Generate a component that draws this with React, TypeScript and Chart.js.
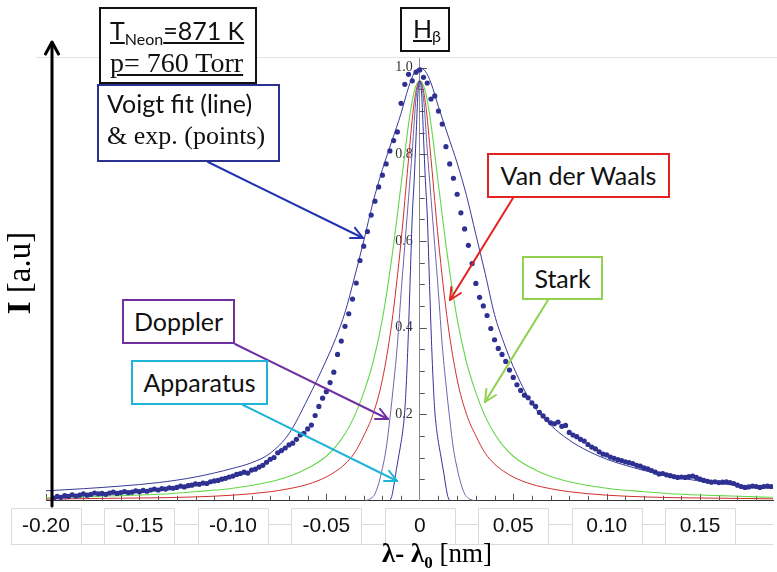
import React, { useEffect, useRef } from "react";
import { Chart, registerables } from "chart.js";

Chart.register(...registerables);

// ---- axes ----
const xRange = [-0.2, 0.189];
const yRange = [0, 1.025];
const xTickValues = [-0.2, -0.15, -0.1, -0.05, 0, 0.05, 0.1, 0.15];
const xTickLabels = ["-0.20", "-0.15", "-0.10", "-0.05", "0", "0.05", "0.10", "0.15"];
const yTickValues = [0.2, 0.4, 0.6, 0.8, 1.0];
const yTickLabels = ["0.2", "0.4", "0.6", "0.8", "1.0"];

// ---- Voigt fit (line) ----
const voigtX = [-0.2, -0.18, -0.16, -0.14, -0.12, -0.1, -0.09, -0.08, -0.07, -0.06, -0.05, -0.045, -0.04, -0.035, -0.03, -0.025, -0.02, -0.015, -0.01, -0.006, -0.003, 0,
  0.003, 0.006, 0.01, 0.015, 0.02, 0.025, 0.03, 0.035, 0.04, 0.045, 0.05, 0.06, 0.07, 0.08, 0.09, 0.1, 0.11, 0.12, 0.13, 0.14, 0.16, 0.18, 0.19];
const voigtY = [0.023, 0.028, 0.034, 0.042, 0.055, 0.075, 0.088, 0.11, 0.155, 0.235, 0.325, 0.375, 0.435, 0.515, 0.6, 0.69, 0.765, 0.83, 0.895, 0.955, 0.988, 1.0,
  0.992, 0.965, 0.91, 0.845, 0.78, 0.705, 0.615, 0.525, 0.43, 0.365, 0.31, 0.225, 0.175, 0.14, 0.115, 0.096, 0.082, 0.07, 0.06, 0.052, 0.04, 0.032, 0.028];

// ---- Stark ----
const starkX = [-0.2, -0.18, -0.16, -0.14, -0.12, -0.1, -0.08, -0.07, -0.06, -0.05, -0.045, -0.04, -0.035, -0.03, -0.025, -0.02, -0.015, -0.01, -0.006, -0.003, 0,
  0.003, 0.006, 0.01, 0.015, 0.02, 0.025, 0.03, 0.035, 0.04, 0.045, 0.05, 0.06, 0.07, 0.08, 0.1, 0.12, 0.14, 0.16, 0.18, 0.19];
const starkY = [0.007, 0.009, 0.012, 0.015, 0.021, 0.029, 0.044, 0.056, 0.075, 0.103, 0.125, 0.155, 0.195, 0.25, 0.32, 0.42, 0.56, 0.73, 0.87, 0.945, 0.97,
  0.945, 0.87, 0.73, 0.56, 0.42, 0.32, 0.25, 0.195, 0.155, 0.125, 0.103, 0.075, 0.056, 0.044, 0.029, 0.021, 0.015, 0.012, 0.009, 0.008];

// ---- Van der Waals ----
const vdwX = [-0.2, -0.18, -0.16, -0.14, -0.12, -0.1, -0.08, -0.07, -0.06, -0.05, -0.045, -0.04, -0.035, -0.03, -0.025, -0.02, -0.015, -0.01, -0.006, -0.003, 0,
  0.003, 0.006, 0.01, 0.015, 0.02, 0.025, 0.03, 0.035, 0.04, 0.045, 0.05, 0.06, 0.07, 0.08, 0.1, 0.12, 0.14, 0.16, 0.18, 0.19];
const vdwY = [0.004, 0.005, 0.006, 0.007, 0.009, 0.013, 0.021, 0.028, 0.038, 0.055, 0.068, 0.085, 0.11, 0.15, 0.2, 0.28, 0.41, 0.6, 0.79, 0.92, 0.97,
  0.92, 0.79, 0.6, 0.41, 0.28, 0.2, 0.15, 0.11, 0.085, 0.068, 0.055, 0.038, 0.028, 0.021, 0.013, 0.009, 0.007, 0.006, 0.005, 0.0045];

// ---- Doppler ----
const dopplerX = [-0.029, -0.026, -0.024, -0.022, -0.02, -0.018, -0.016, -0.014, -0.012, -0.01, -0.008, -0.006, -0.004, -0.002, 0,
  0.002, 0.004, 0.006, 0.008, 0.01, 0.012, 0.014, 0.016, 0.018, 0.02, 0.022, 0.024, 0.026, 0.029];
const dopplerY = [0, 0.006, 0.016, 0.04, 0.075, 0.12, 0.19, 0.27, 0.36, 0.48, 0.59, 0.7, 0.81, 0.93, 0.97,
  0.93, 0.81, 0.7, 0.59, 0.48, 0.36, 0.27, 0.19, 0.12, 0.075, 0.04, 0.016, 0.006, 0];

// ---- Apparatus ----
const apparatusX = [-0.016, -0.015, -0.014, -0.013, -0.012, -0.011, -0.01, -0.009, -0.008, -0.007, -0.006, -0.005, -0.004, -0.003, -0.002, -0.001, 0,
  0.001, 0.002, 0.003, 0.004, 0.005, 0.006, 0.007, 0.008, 0.009, 0.01, 0.011, 0.012, 0.013, 0.014, 0.015, 0.016];
const apparatusY = [0, 0.01, 0.032, 0.06, 0.085, 0.11, 0.135, 0.165, 0.21, 0.29, 0.4, 0.53, 0.66, 0.74, 0.84, 0.94, 0.97,
  0.94, 0.84, 0.74, 0.66, 0.53, 0.4, 0.29, 0.21, 0.165, 0.135, 0.11, 0.085, 0.06, 0.032, 0.01, 0];

// ---- experimental points ----
const expX = [
  -0.196, -0.194, -0.192, -0.19, -0.188, -0.186, -0.184, -0.182, -0.18, -0.178, -0.176, -0.174, -0.172, -0.17, -0.168, -0.166, -0.164, -0.162, -0.16, -0.158,
  -0.156, -0.154, -0.152, -0.15, -0.148, -0.146, -0.144, -0.142, -0.14, -0.138, -0.136, -0.134, -0.132, -0.13, -0.128, -0.126, -0.124, -0.122, -0.12, -0.118,
  -0.116, -0.114, -0.112, -0.11, -0.108, -0.106, -0.104, -0.102, -0.1, -0.098, -0.096, -0.094, -0.092, -0.09, -0.088, -0.086, -0.084, -0.082, -0.08, -0.078,
  -0.076, -0.074, -0.072, -0.07, -0.068, -0.066, -0.064, -0.062, -0.06, -0.058, -0.056, -0.054, -0.052, -0.05, -0.048, -0.046, -0.044, -0.042, -0.04, -0.038,
  -0.036, -0.034, -0.032, -0.03, -0.028, -0.026, -0.024, -0.022, -0.02, -0.018, -0.016, -0.014, -0.012, -0.01, -0.008, -0.006, -0.004, -0.002,
  0, 0.002, 0.004, 0.006, 0.008, 0.01, 0.012, 0.014, 0.016, 0.018, 0.02, 0.022, 0.024, 0.026, 0.028, 0.03, 0.032, 0.034, 0.036, 0.038,
  0.04, 0.042, 0.044, 0.046, 0.048, 0.05, 0.052, 0.054, 0.056, 0.058, 0.06, 0.062, 0.064, 0.066, 0.068, 0.07, 0.072, 0.074, 0.076, 0.078,
  0.08, 0.082, 0.084, 0.086, 0.088, 0.09, 0.092, 0.094, 0.096, 0.098, 0.1, 0.102, 0.104, 0.106, 0.108, 0.11, 0.112, 0.114, 0.116, 0.118,
  0.12, 0.122, 0.124, 0.126, 0.128, 0.13, 0.132, 0.134, 0.136, 0.138, 0.14, 0.142, 0.144, 0.146, 0.148, 0.15, 0.152, 0.154, 0.156, 0.158,
  0.16, 0.162, 0.164, 0.166, 0.168, 0.17, 0.172, 0.174, 0.176, 0.178, 0.18, 0.182, 0.184, 0.186, 0.188];
const expY = [
  0.006, 0.01, 0.008, 0.012, 0.01, 0.014, 0.011, 0.013, 0.016, 0.013, 0.015, 0.018, 0.016, 0.017, 0.015, 0.018, 0.02, 0.017, 0.019, 0.021,
  0.019, 0.02, 0.023, 0.021, 0.024, 0.022, 0.025, 0.027, 0.025, 0.028, 0.027, 0.03, 0.029, 0.031, 0.034, 0.032, 0.035, 0.036, 0.039, 0.038,
  0.041, 0.04, 0.044, 0.046, 0.047, 0.05, 0.052, 0.055, 0.057, 0.061, 0.063, 0.066, 0.064, 0.071, 0.073, 0.078, 0.082, 0.089, 0.096, 0.1,
  0.111, 0.116, 0.122, 0.129, 0.133, 0.142, 0.152, 0.156, 0.166, 0.175, 0.197, 0.218, 0.237, 0.252, 0.273, 0.297, 0.338, 0.369, 0.403, 0.432,
  0.466, 0.503, 0.555, 0.588, 0.622, 0.66, 0.692, 0.725, 0.752, 0.778, 0.808, 0.832, 0.852, 0.918, 0.962, 0.985, 0.97, 0.99,
  0.995, 0.978, 0.965, 0.928, 0.935, 0.9, 0.87, 0.818, 0.778, 0.745, 0.708, 0.665, 0.628, 0.59, 0.548, 0.502, 0.47, 0.45, 0.428, 0.398,
  0.372, 0.352, 0.338, 0.322, 0.302, 0.285, 0.268, 0.255, 0.244, 0.238, 0.226, 0.218, 0.204, 0.196, 0.188, 0.18, 0.178, 0.182, 0.172, 0.174,
  0.158, 0.152, 0.148, 0.142, 0.138, 0.13, 0.124, 0.12, 0.113, 0.108, 0.106, 0.101, 0.098, 0.095, 0.093, 0.09, 0.088, 0.086, 0.082, 0.08,
  0.076, 0.074, 0.07, 0.066, 0.062, 0.063, 0.06, 0.058, 0.056, 0.054, 0.055, 0.054, 0.056, 0.057, 0.054, 0.05, 0.047, 0.045, 0.043, 0.044,
  0.042, 0.043, 0.044, 0.042, 0.04, 0.036, 0.033, 0.031, 0.032, 0.034, 0.033, 0.031, 0.033, 0.034, 0.033];

const pairs = (xs: number[], ys: number[]) => xs.map((x, i) => ({ x, y: ys[i] }));

const tickText = (vals: number[], labels: string[], v: number) => {
  const i = vals.findIndex((t) => Math.abs(t - v) < 1e-9);
  return i >= 0 ? labels[i] : "";
};

const decorPlugin = {
  id: "decor",
  beforeDraw(chart: any) {
    const { ctx } = chart;
    const xs = chart.scales.x;
    const ys = chart.scales.y;
    const y0 = ys.getPixelForValue(0);
    const right = chart.chartArea.right;
    // staggered label boxes under the x axis
    ctx.save();
    ctx.strokeStyle = "#dadada";
    ctx.lineWidth = 1;
    const half = 35;
    const top = Math.round(y0 + 7) + 0.5;
    const low = Math.round(y0 + 23) + 0.5;
    const bottom = Math.round(y0 + 43) + 0.5;
    const centers = xTickValues.map((v) => xs.getPixelForValue(v));
    ctx.beginPath();
    centers.forEach((c, i) => {
      ctx.rect(Math.round(c - half) + 0.5, top, 2 * half, bottom - top);
      const next = i < centers.length - 1 ? centers[i + 1] - half : right;
      ctx.moveTo(c + half, low);
      ctx.lineTo(next, low);
    });
    ctx.moveTo(centers[0] - half, bottom);
    ctx.lineTo(right, bottom);
    ctx.stroke();
    ctx.restore();
  },
  beforeDatasetsDraw(chart: any) {
    const { ctx } = chart;
    const xs = chart.scales.x;
    const ys = chart.scales.y;
    const y0 = ys.getPixelForValue(0);
    const x0 = xs.getPixelForValue(0);
    ctx.save();
    ctx.strokeStyle = "#555";
    ctx.lineWidth = 1;
    ctx.beginPath();
    for (let k = -20; k <= 18; k++) {
      if (k === 0) continue;
      const px = Math.round(xs.getPixelForValue(k / 100)) + 0.5;
      const len = k % 5 === 0 ? 7 : 5;
      ctx.moveTo(px, y0);
      ctx.lineTo(px, y0 - len);
    }
    for (let k = 1; k <= 20; k++) {
      const py = Math.round(ys.getPixelForValue(k * 0.05)) + 0.5;
      const len = k % 4 === 0 ? 7 : 5;
      ctx.moveTo(x0, py);
      ctx.lineTo(x0 + len, py);
    }
    ctx.stroke();
    ctx.restore();
  },
};

function Arrow({ x1, y1, x2, y2, color, w = 2, head = 13 }: any) {
  const a = Math.atan2(y2 - y1, x2 - x1);
  const s = 0.45;
  const p1 = `${x2 - head * Math.cos(a - s)},${y2 - head * Math.sin(a - s)}`;
  const p2 = `${x2 - head * Math.cos(a + s)},${y2 - head * Math.sin(a + s)}`;
  return (
    <g stroke={color} strokeWidth={w} fill="none" strokeLinecap="round" strokeLinejoin="round">
      <line x1={x1} y1={y1} x2={x2} y2={y2} />
      <polyline points={`${p1} ${x2},${y2} ${p2}`} />
    </g>
  );
}

const abs: any = { position: "absolute", boxSizing: "border-box", whiteSpace: "nowrap" };
const LATO = "Lato, 'Open Sans', sans-serif";
const SERIF = "'Liberation Serif', 'DejaVu Serif', serif";

function TagBox({ left, top, w, h, color, children }: any) {
  return (
    <div
      style={{
        ...abs, left, top, width: w, height: h, border: `2px solid ${color}`, background: "#fff",
        display: "flex", alignItems: "center", justifyContent: "center",
        fontFamily: LATO, fontSize: 25, color: "#111", lineHeight: "25px",
      }}
    >
      {children}
    </div>
  );
}

export default function App() {
  const ref = useRef<HTMLCanvasElement>(null);
  useEffect(() => {
    if (!ref.current) return;
    const line = (data: any, color: string, width: number) => ({
      data, showLine: true, borderColor: color, borderWidth: width, pointRadius: 0,
      cubicInterpolationMode: "monotone", fill: false,
    });
    const chart = new Chart(ref.current, {
      type: "scatter",
      data: {
        datasets: [
          { data: pairs(expX, expY), showLine: false, pointRadius: 2.6, pointBorderWidth: 0, pointBackgroundColor: "#2e3192", backgroundColor: "#2e3192" } as any,
          line(pairs(voigtX, voigtY), "#3a3a98", 1),
          line(pairs(apparatusX, apparatusY), "#33339e", 1),
          line(pairs(dopplerX, dopplerY), "#6f64aa", 1),
          line(pairs(vdwX, vdwY), "#cf2f2f", 1),
          line(pairs(starkX, starkY), "#63d64a", 1.1),
        ],
      },
      options: {
        responsive: false,
        animation: false,
        devicePixelRatio: 1,
        events: [],
        layout: { padding: { left: 46, right: 0, top: 57, bottom: 20 } },
        plugins: { legend: { display: false }, tooltip: { enabled: false } },
        scales: {
          x: {
            type: "linear",
            min: xRange[0],
            max: xRange[1],
            position: "bottom",
            afterBuildTicks: (s: any) => { s.ticks = xTickValues.map((v) => ({ value: v })); },
            ticks: {
              autoSkip: false, maxRotation: 0, minRotation: 0, padding: 13, color: "#111",
              font: { family: "'Liberation Sans', Arial, sans-serif", size: 21 },
              callback: (v: any) => tickText(xTickValues, xTickLabels, Number(v)),
            },
            grid: { display: true, drawOnChartArea: false, drawTicks: false },
            border: { display: true, color: "#333", width: 1 },
          },
          y: {
            type: "linear",
            min: yRange[0],
            max: yRange[1],
            position: { x: 0 } as any,
            afterBuildTicks: (s: any) => { s.ticks = yTickValues.map((v) => ({ value: v })); },
            ticks: {
              autoSkip: false, color: "#333", padding: 0,
              font: { family: SERIF, size: 14 },
              callback: (v: any) => tickText(yTickValues, yTickLabels, Number(v)) + "  ",
            },
            grid: { display: true, drawOnChartArea: false, drawTicks: false },
            border: { display: true, color: "#8a8a8a", width: 1 },
          },
        },
      } as any,
      plugins: [decorPlugin],
    });
    return () => chart.destroy();
  }, []);

  return (
    <div style={{ position: "absolute", left: 0, top: 0, width: 777, height: 572, background: "#fff", overflow: "hidden" }}>
      <canvas ref={ref} width={777} height={572} style={{ position: "absolute", left: 0, top: 0 }} />
      <svg width={777} height={572} style={{ position: "absolute", left: 0, top: 0 }}>
        <line x1={36} y1={57.5} x2={777} y2={57.5} stroke="#e4e4e4" strokeWidth={1} />
        <g stroke="#000" strokeWidth={3} fill="none" strokeLinecap="round" strokeLinejoin="round">
          <line x1={52} y1={506} x2={52} y2={43} />
          <polyline points="45.5,54 52,42 58.5,54" />
        </g>
        <Arrow x1={208} y1={162} x2={363} y2={238} color="#2233b0" />
        <Arrow x1={513} y1={198} x2={450} y2={300} color="#e32222" />
        <Arrow x1={548} y1={300} x2={485} y2={402} color="#92d050" />
        <Arrow x1={235} y1={344} x2={388} y2={419} color="#7030a0" />
        <Arrow x1={243} y1={405} x2={397} y2={481} color="#1fb4d8" />
      </svg>

      {/* T / p box */}
      <div style={{ ...abs, left: 99, top: 7, width: 158, height: 77, border: "2px solid #111", background: "#fff" }} />
      <div style={{ ...abs, left: 110, top: 18, fontFamily: LATO, fontSize: 25, lineHeight: "25px", textDecoration: "underline", color: "#111" }}>
        T<span style={{ fontSize: 16, position: "relative", top: 5 }}>Neon</span>=871 K
      </div>
      <div style={{ ...abs, left: 110, top: 49, fontFamily: SERIF, fontSize: 28, lineHeight: "28px", textDecoration: "underline", color: "#111" }}>
        p= 760 Torr
      </div>

      {/* Voigt box */}
      <div style={{ ...abs, left: 97, top: 84, width: 183, height: 78, border: "2px solid #2b2f8f", background: "#fff" }} />
      <div style={{ ...abs, left: 107, top: 91, fontFamily: LATO, fontSize: 25, lineHeight: "25px", color: "#111" }}>Voigt fit (line)</div>
      <div style={{ ...abs, left: 107, top: 123, fontFamily: SERIF, fontSize: 26, lineHeight: "26px", color: "#111" }}>&amp; exp. (points)</div>

      {/* H beta box */}
      <div style={{ ...abs, left: 400, top: 7, width: 50, height: 45, border: "2px solid #111", background: "#fff" }} />
      <div style={{ ...abs, left: 413, top: 16, fontFamily: LATO, fontSize: 25, lineHeight: "25px", textDecoration: "underline", color: "#111" }}>
        H<span style={{ fontSize: 16, position: "relative", top: 4 }}>β</span>
      </div>

      <TagBox left={487} top={153} w={183} h={45} color="#e32222">Van der Waals</TagBox>
      <TagBox left={522} top={256} w={81} h={44} color="#92d050">Stark</TagBox>
      <TagBox left={122} top={299} w={113} h={45} color="#7030a0">Doppler</TagBox>
      <TagBox left={131} top={360} w={137} h={45} color="#1fb4d8">Apparatus</TagBox>

      {/* axis titles */}
      <div style={{ ...abs, left: 19, top: 273, transform: "translate(-50%, -50%) rotate(-90deg)", fontFamily: SERIF, fontSize: 33, lineHeight: "33px", color: "#000" }}>
        <b>I</b> [a.u]
      </div>
      <div style={{ ...abs, left: 287, width: 300, top: 540, textAlign: "center", fontFamily: SERIF, fontSize: 27, lineHeight: "27px", color: "#000" }}>
        <b>λ- λ<span style={{ fontSize: 17, position: "relative", top: 6 }}>0</span></b> [nm]
      </div>
    </div>
  );
}
